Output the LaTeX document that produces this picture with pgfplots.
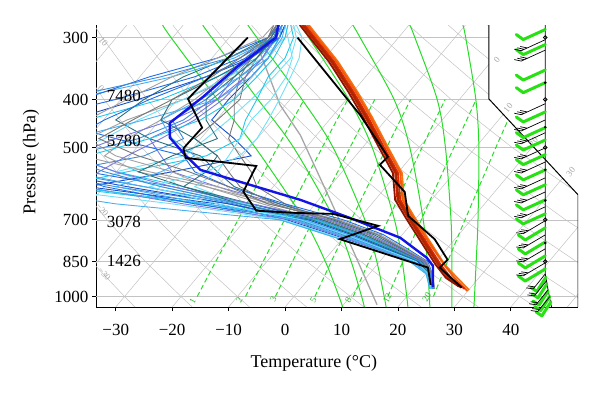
\documentclass[border=0pt]{standalone}
\usepackage{fontspec}
\setmainfont{Liberation Serif}
\usepackage{pgfplots}
\pgfplotsset{compat=1.18}
\definecolor{gridgray}{RGB}{195,195,195}
\definecolor{madgreen}{RGB}{40,220,40}
\definecolor{barbgreen}{RGB}{40,225,20}
\definecolor{ca}{RGB}{30,110,230}
\definecolor{cb}{RGB}{30,200,235}
\definecolor{cc}{RGB}{160,160,160}
\definecolor{cd}{RGB}{60,140,215}
\definecolor{ce}{RGB}{110,225,250}
\definecolor{cf}{RGB}{120,120,225}
\definecolor{cg}{RGB}{40,115,125}
\definecolor{ch}{RGB}{25,80,205}
\definecolor{ci}{RGB}{120,120,120}
\definecolor{cj}{RGB}{70,175,240}
\definecolor{thickblue}{RGB}{20,20,230}
\definecolor{tA}{RGB}{140,20,0}
\definecolor{tB}{RGB}{225,35,0}
\definecolor{tC}{RGB}{240,90,10}
\definecolor{tD}{RGB}{245,115,20}
\definecolor{tE}{RGB}{170,40,0}
\definecolor{tF}{RGB}{200,35,0}
\pgfdeclareplotmark{gA}{\pgfpathmoveto{\pgfqpoint{0pt}{0pt}}\pgfpathlineto{\pgfqpoint{-22pt}{-10pt}}\pgfpathlineto{\pgfqpoint{-29pt}{-5pt}}\pgfusepathqstroke}
\pgfdeclareplotmark{gB}{\pgfpathmoveto{\pgfqpoint{0pt}{0pt}}\pgfpathlineto{\pgfqpoint{-20pt}{-12pt}}\pgfpathlineto{\pgfqpoint{-27pt}{-7pt}}\pgfusepathqstroke}
\pgfdeclareplotmark{gC}{\pgfpathmoveto{\pgfqpoint{0pt}{0pt}}\pgfpathlineto{\pgfqpoint{-9pt}{-14pt}}\pgfpathlineto{\pgfqpoint{-15pt}{-10pt}}\pgfusepathqstroke}
\pgfdeclareplotmark{bA}{\pgfpathmoveto{\pgfqpoint{0pt}{0pt}}\pgfpathlineto{\pgfqpoint{-24pt}{-11pt}}\pgfpathlineto{\pgfqpoint{-31pt}{-9.5pt}}\pgfpathmoveto{\pgfqpoint{-21pt}{-9.6pt}}\pgfpathlineto{\pgfqpoint{-28pt}{-8.1pt}}\pgfpathmoveto{\pgfqpoint{-18pt}{-8.25pt}}\pgfpathlineto{\pgfqpoint{-25pt}{-6.75pt}}\pgfusepathqstroke}
\pgfdeclareplotmark{bB}{\pgfpathmoveto{\pgfqpoint{0pt}{0pt}}\pgfpathlineto{\pgfqpoint{-22pt}{-13pt}}\pgfpathlineto{\pgfqpoint{-29pt}{-12pt}}\pgfpathmoveto{\pgfqpoint{-19.5pt}{-11.5pt}}\pgfpathlineto{\pgfqpoint{-26.5pt}{-10.5pt}}\pgfpathmoveto{\pgfqpoint{-17pt}{-10pt}}\pgfpathlineto{\pgfqpoint{-24pt}{-9pt}}\pgfusepathqstroke}
\pgfdeclareplotmark{bC}{\pgfpathmoveto{\pgfqpoint{0pt}{0pt}}\pgfpathlineto{\pgfqpoint{-12pt}{-15pt}}\pgfpathlineto{\pgfqpoint{-19pt}{-14pt}}\pgfpathmoveto{\pgfqpoint{-10.5pt}{-13pt}}\pgfpathlineto{\pgfqpoint{-17.5pt}{-12pt}}\pgfusepathqstroke}
\pgfplotsset{
 gl/.style={gridgray, line width=0.5pt},
 ma/.style={madgreen, line width=1pt, smooth},
 mr/.style={madgreen, line width=1pt, dash pattern=on 5pt off 3pt},
 en/.style={line width=0.9pt},
 te/.style={line width=1.8pt},
}
\begin{document}
\begin{tikzpicture}
\begin{axis}[
 scale only axis, width=482pt, height=282pt,
 xmin=-33.5, xmax=51.9, ymin=283, ymax=1050,
 ymode=log, y dir=reverse,
 axis x line*=bottom, axis y line*=left,
 axis line style={line width=1pt},
 xtick={-30,-20,-10,0,10,20,30,40},
 xticklabels={−30,−20,−10,0,10,20,30,40},
 ytick={300,400,500,700,850,1000},
 yticklabels={300,400,500,700,850,1000},
 minor xtick={}, minor ytick={},
 tick align=outside, major tick length=4pt,
 tick style={black, line width=0.8pt},
 /pgf/number format/assume math mode=true,
 tick label style={font=\fontsize{17}{20}\selectfont},
 xticklabel style={yshift=-10pt},
 label style={font=\fontsize{18}{21}\selectfont},
 xlabel={Temperature (°C)}, ylabel={Pressure (hPa)},
 xlabel style={at={(axis description cs:0.452,-0.2)}, anchor=center},
 ylabel style={at={(axis description cs:-0.135,0.514)}, anchor=center},
]
\begin{scope}
\clip (axis cs:-33.5,283) -- (axis cs:36.1,283) -- (axis cs:36.1,399) -- (axis cs:51.9,623) -- (axis cs:51.9,1050) -- (axis cs:-33.5,1050) -- cycle;
% isobars
\addplot[gl] coordinates {(-33.5,300) (51.9,300)};
\addplot[gl] coordinates {(-33.5,400) (51.9,400)};
\addplot[gl] coordinates {(-33.5,500) (51.9,500)};
\addplot[gl] coordinates {(-33.5,700) (51.9,700)};
\addplot[gl] coordinates {(-33.5,850) (51.9,850)};
\addplot[gl] coordinates {(-33.5,1000) (51.9,1000)};
% isotherms
\addplot[gl] coordinates {(-70,1050) (-28.04,283)};
\addplot[gl] coordinates {(-60,1050) (-18.04,283)};
\addplot[gl] coordinates {(-50,1050) (-8.04,283)};
\addplot[gl] coordinates {(-40,1050) (1.96,283)};
\addplot[gl] coordinates {(-30,1050) (11.96,283)};
\addplot[gl] coordinates {(-20,1050) (21.96,283)};
\addplot[gl] coordinates {(-10,1050) (31.96,283)};
\addplot[gl] coordinates {(0,1050) (41.96,283)};
\addplot[gl] coordinates {(10,1050) (51.96,283)};
\addplot[gl] coordinates {(20,1050) (61.96,283)};
\addplot[gl] coordinates {(30,1050) (71.96,283)};
\addplot[gl] coordinates {(40,1050) (81.96,283)};
\addplot[gl] coordinates {(50,1050) (91.96,283)};
% dry adiabats
\addplot[gl] coordinates {(-26.58,1050)(-28.44,1000)(-34.29,850)};
\addplot[gl] coordinates {(-16.44,1050)(-18.44,1000)(-24.74,850)(-31.57,700)(-41.78,500)};
\addplot[gl] coordinates {(-6.30,1050)(-8.44,1000)(-15.20,850)(-22.54,700)(-33.58,500)(-39.79,400)};
\addplot[gl] coordinates {(3.84,1050)(1.56,1000)(-5.65,850)(-13.51,700)(-25.38,500)(-32.10,400)(-39.47,300)};
\addplot[gl] coordinates {(13.98,1050)(11.56,1000)(3.90,850)(-4.48,700)(-17.18,500)(-24.41,400)(-32.38,300)(-33.84,283)};
\addplot[gl] coordinates {(24.12,1050)(21.56,1000)(13.44,850)(4.55,700)(-8.98,500)(-16.72,400)(-25.29,300)(-26.87,283)};
\addplot[gl] coordinates {(34.26,1050)(31.56,1000)(22.99,850)(13.58,700)(-0.78,500)(-9.03,400)(-18.20,300)(-19.90,283)};
\addplot[gl] coordinates {(44.40,1050)(41.56,1000)(32.53,850)(22.61,700)(7.42,500)(-1.34,400)(-11.11,300)(-12.93,283)};
\addplot[gl] coordinates {(54.54,1050)(51.56,1000)(42.08,850)(31.64,700)(15.62,500)(6.35,400)(-4.02,300)(-5.96,283)};
\addplot[gl] coordinates {(64.68,1050)(61.56,1000)(51.63,850)(40.67,700)(23.82,500)(14.04,400)(3.07,300)(1.01,283)};
\addplot[gl] coordinates {(74.82,1050)(71.56,1000)(61.17,850)(49.70,700)(32.02,500)(21.73,400)(10.16,300)(7.98,283)};
\addplot[gl] coordinates {(84.96,1050)(81.56,1000)(70.72,850)(58.73,700)(40.22,500)(29.42,400)(17.25,300)(14.95,283)};
\addplot[gl] coordinates {(95.10,1050)(91.56,1000)(80.26,850)(67.76,700)(48.42,500)(37.11,400)(24.34,300)(21.92,283)};
\addplot[gl] coordinates {(105.24,1050)(101.56,1000)(89.81,850)(76.79,700)(56.62,500)(44.80,400)(31.43,300)(28.89,283)};
\addplot[gl] coordinates {(115.38,1050)(111.56,1000)(99.35,850)(85.82,700)(64.82,500)(52.49,400)(38.52,300)(35.86,283)};
% mixing ratio lines
\addplot[mr] coordinates {(-15.57,1000)(-12.29,850)(-8.33,700)(-1.35,500)(3.38,400)};
\addplot[mr] coordinates {(-7.02,1000)(-3.89,850)(-0.10,700)(6.59,500)(11.11,400)};
\addplot[mr] coordinates {(-1.72,1000)(1.31,850)(5.00,700)(11.51,500)(15.90,400)};
\addplot[mr] coordinates {(5.28,1000)(8.19,850)(11.73,700)(17.99,500)(22.24,400)};
\addplot[mr] coordinates {(12.07,1000)(14.86,850)(18.25,700)(24.27,500)(28.36,400)};
\addplot[mr] coordinates {(18.20,1000)(20.87,850)(24.13,700)(29.92,500)(33.87,400)};
\addplot[mr] coordinates {(26.28,1000)(28.79,850)(31.87,700)(37.35,500)(41.11,400)};
% moist adiabats
\addplot[ma] coordinates {(10.2,1050)(9.56,1000)(7.14,850)(3.38,700)(-5.3,500)(-12.0,400)(-20.2,300)(-21.7,283)};
\addplot[ma] coordinates {(14.05,1050)(13.56,1000)(11.71,850)(8.8,700)(1.5,500)(-4.8,400)(-13.0,300)(-14.6,283)};
\addplot[ma] coordinates {(17.9,1050)(17.56,1000)(16.26,850)(14.14,700)(8.5,500)(3.0,400)(-5.0,300)(-6.6,283)};
\addplot[ma] coordinates {(21.76,1050)(21.56,1000)(20.76,850)(19.38,700)(15.44,500)(11.28,400)(4.2,300)(2.7,283)};
\addplot[ma] coordinates {(25.65,1050)(25.56,1000)(25.19,850)(24.48,700)(22.1,500)(19.31,400)(13.3,300)(12.0,283)};
\addplot[ma] coordinates {(29.55,1050)(29.56,1000)(29.56,850)(29.4,700)(28.41,500)(26.95,400)(23.0,300)(22.1,283)};
\addplot[ma] coordinates {(33.46,1050)(33.56,1000)(33.86,850)(34.18,700)(34.34,500)(33.8,400)(32.0,300)(31.5,283)};
\end{scope}
% frame on the right
\draw[line width=1pt] (axis cs:36.1,283) -- (axis cs:36.1,399) -- (axis cs:51.9,623) -- (axis cs:51.9,1050);
% line labels
\begin{scope}[every node/.style={font=\fontsize{9}{10}\selectfont, text=madgreen!85!black, rotate=62, inner sep=0pt}]
\node at (axis cs:-16.4,1023) {1};
\node at (axis cs:-8.1,1016) {2};
\node at (axis cs:-2.1,1010) {3};
\node at (axis cs:5.0,1016) {5};
\node at (axis cs:11.2,1016) {8};
\node at (axis cs:18.1,1006) {12};
\node at (axis cs:25.1,1001) {20};
\end{scope}
\begin{scope}[every node/.style={font=\fontsize{9}{10}\selectfont, text=black!35, rotate=-50, inner sep=0pt}]
\node at (axis cs:-32.2,306) {10};
\node at (axis cs:-32.6,379) {0};
\node at (axis cs:-32.4,668) {−20};
\node at (axis cs:-32.0,900) {−30};
\end{scope}
\begin{scope}[every node/.style={font=\fontsize{9}{10}\selectfont, text=black!35, rotate=50, inner sep=0pt}]
\node at (axis cs:37.5,333) {0};
\node at (axis cs:39.5,416) {10};
\node at (axis cs:44.0,487) {20};
\node at (axis cs:50.6,560) {30};
\end{scope}
% gray line
\addplot[black!35, line width=1.3pt] coordinates {(-5.3,303)(-0.9,410)(2.7,472)(8.0,638)(12.0,805)(16.3,1039)};
% ensemble dewpoints
\addplot[en, ca] coordinates {(-1,283)(-2,300)(-8,330)(-16,360)(-30,400)(-45,440)(-50,480)(-45,520)(-35,560)(-20,600)(-6,650)(5.3,700)(12.9,750)(18.7,800)(23.9,850)(25.6,900)(26.0,950)(26.1,965)};
\addplot[en, cb] coordinates {(0,283)(-1,300)(-5,330)(-12,360)(-22,400)(-35,440)(-42,480)(-38,520)(-30,560)(-18,600)(-7,650)(2.8,700)(10.7,750)(17.2,800)(23.2,850)(25.4,900)(25.8,950)(25.9,965)};
\addplot[en, cc] coordinates {(-2,283)(-3,300)(-7,330)(-11,360)(-16,400)(-22,440)(-28,480)(-32,520)(-26,560)(-14,600)(-2,650)(7.8,700)(15.1,750)(20.1,800)(24.6,850)(25.8,900)(26.2,950)(26.3,965)};
\addplot[en, cd] coordinates {(-0.5,283)(-2,300)(-6,330)(-10,360)(-14,400)(-20,440)(-18,480)(-25,520)(-40,560)(-25,600)(-9,650)(1.6,700)(9.5,750)(16.5,800)(22.8,850)(25.2,900)(25.7,950)(25.8,965)};
\addplot[en, ce] coordinates {(1.5,283)(2,300)(1,330)(-2,360)(-6,400)(-10,440)(-14,480)(-18,520)(-30,560)(-22,600)(-7,650)(4.1,700)(11.8,750)(17.9,800)(23.5,850)(25.5,900)(25.9,950)(26.0,965)};
\addplot[en, cf] coordinates {(-1,283)(-2.5,300)(-6,330)(-9,360)(-12,400)(-17,440)(-24,480)(-22,520)(-20,560)(-12,600)(-1,650)(9.0,700)(16.3,750)(20.8,800)(24.9,850)(26.0,900)(26.3,950)(26.4,965)};
\addplot[en, cg] coordinates {(-1.5,283)(-3,300)(-10,330)(-18,360)(-25,400)(-30,440)(-24,480)(-15,520)(-12,560)(-9,600)(-1,650)(8.4,700)(15.7,750)(20.5,800)(24.7,850)(25.9,900)(26.3,950)(26.3,965)};
\addplot[en, ch] coordinates {(0,283)(-1,300)(-3,330)(-6,360)(-10,400)(-13,440)(-9,480)(-6,520)(-20,560)(-35,600)(-12,650)(0.3,700)(8.4,750)(15.7,800)(22.5,850)(25.1,900)(25.6,950)(25.7,965)};
\addplot[en, ci] coordinates {(-2,283)(-3,300)(-6,330)(-8,360)(-9,400)(-9,440)(-10,480)(-8,520)(-6,560)(-5,600)(0,650)(6.5,700)(14.0,750)(19.4,800)(24.2,850)(25.7,900)(26.1,950)(26.2,965)};
\addplot[en, cb] coordinates {(1,283)(1.5,300)(0,330)(-3,360)(-5,400)(-7,440)(-8,480)(-14,520)(-28,560)(-40,600)(-15,650)(-0.9,700)(7.3,750)(15.0,800)(22.1,850)(25.0,900)(25.5,950)(25.6,965)};
\addplot[en, cj] coordinates {(-0.5,283)(-2,300)(-9,330)(-20,360)(-38,400)(-45,440)(-40,480)(-40,520)(-38,560)(-25,600)(-8,650)(3.4,700)(11.2,750)(17.6,800)(23.3,850)(25.4,900)(25.9,950)(26.0,965)};
\addplot[en, ca] coordinates {(-1,283)(-3,300)(-12,330)(-24,360)(-36,400)(-42,440)(-30,480)(-18,520)(-16,560)(-10,600)(0,650)(10.3,700)(17.4,750)(21.6,800)(25.3,850)(26.1,900)(26.4,950)(26.5,965)};
\addplot[en, cc] coordinates {(-1,283)(-2,300)(-5,330)(-9,360)(-18,400)(-28,440)(-35,480)(-30,520)(-20,560)(-14,600)(-4,650)(5.9,700)(13.5,750)(19.0,800)(24.0,850)(25.7,900)(26.1,950)(26.2,965)};
\addplot[en, cd] coordinates {(-0.5,283)(-1.5,300)(-4,330)(-8,360)(-13,400)(-18,440)(-26,480)(-38,520)(-45,560)(-30,600)(-10,650)(2.2,700)(10.1,750)(16.8,800)(23.0,850)(25.3,900)(25.8,950)(25.9,965)};
\addplot[en, ce] coordinates {(0,283)(0.5,300)(1.3,330)(0.2,360)(-2.5,400)(-6,440)(-8,480)(-10,520)(-12,560)(-16,600)(-8,650)(4.7,700)(12.3,750)(18.3,800)(23.7,850)(25.5,900)(26.0,950)(26.0,965)};
\addplot[en, cf] coordinates {(-1,283)(-2,300)(-4,330)(-7,360)(-11,400)(-16,440)(-22,480)(-28,520)(-33,560)(-36,600)(-18,650)(1.0,700)(9.0,750)(16.1,800)(22.6,850)(25.2,900)(25.7,950)(25.8,965)};
\addplot[en, ci] coordinates {(-1.5,283)(-2.5,300)(-5,330)(-7,360)(-8,400)(-12,440)(-16,480)(-12,520)(-10,560)(-8,600)(-2,650)(7.2,700)(14.6,750)(19.7,800)(24.4,850)(25.8,900)(26.2,950)(26.3,965)};
\addplot[en, ch] coordinates {(0,283)(-1,300)(-6,330)(-14,360)(-26,400)(-38,440)(-48,480)(-50,520)(-42,560)(-28,600)(-10,650)(4.1,700)(11.8,750)(17.9,800)(23.5,850)(25.5,900)(25.9,950)(26.0,965)};
\addplot[en, ce] coordinates {(0.5,283)(0,300)(-4,330)(-10,360)(-18,400)(-26,440)(-32,480)(-40,520)(-48,560)(-45,600)(-20,650)(-0.3,700)(7.9,750)(15.4,800)(22.3,850)(25.1,900)(25.6,950)(25.7,965)};
\addplot[en, cg] coordinates {(-1,283)(-2,300)(-5,330)(-9,360)(-14,400)(-14,440)(-12,480)(-20,520)(-26,560)(-18,600)(-6,650)(6.5,700)(14.0,750)(19.4,800)(24.2,850)(25.7,900)(26.1,950)(26.2,965)};
\addplot[en, cj] coordinates {(-0.5,283)(-1,300)(-3,330)(-6,360)(-12,400)(-25,440)(-38,480)(-48,520)(-50,560)(-50,600)(-30,650)(-0.9,700)(7.3,750)(15.0,800)(22.1,850)(25.0,900)(25.5,950)(25.6,965)};
\addplot[en, cc] coordinates {(-2,283)(-4,300)(-12,330)(-20,360)(-28,400)(-35,440)(-42,480)(-36,520)(-24,560)(-12,600)(-3,650)(9.6,700)(16.8,750)(21.2,800)(25.1,850)(26.0,900)(26.4,950)(26.5,965)};
\addplot[en, cb] coordinates {(0.5,283)(0,300)(-2,330)(-5,360)(-9,400)(-15,440)(-24,480)(-35,520)(-44,560)(-38,600)(-14,650)(5.3,700)(12.9,750)(18.7,800)(23.9,850)(25.6,900)(26.0,950)(26.1,965)};
\addplot[en, ca] coordinates {(-1,283)(-2,300)(-7,330)(-14,360)(-24,400)(-32,440)(-38,480)(-44,520)(-40,560)(-32,600)(-16,650)(2.8,700)(10.7,750)(17.2,800)(23.2,850)(25.4,900)(25.8,950)(25.9,965)};
\addplot[en, cf] coordinates {(-1,283)(-2,300)(-4,330)(-7,360)(-12,400)(-20,440)(-30,480)(-38,520)(-30,560)(-20,600)(-6,650)(7.8,700)(15.1,750)(20.1,800)(24.6,850)(25.8,900)(26.2,950)(26.3,965)};
\addplot[en, cj] coordinates {(0,283)(-0.5,300)(-3,330)(-8,360)(-15,400)(-22,440)(-20,480)(-16,520)(-22,560)(-30,600)(-14,650)(1.6,700)(9.5,750)(16.5,800)(22.8,850)(25.2,900)(25.7,950)(25.8,965)};
\addplot[en, cg] coordinates {(-1,283)(-2.5,300)(-6,330)(-12,360)(-20,400)(-22,440)(-16,480)(-12,520)(-14,560)(-18,600)(-8,650)(4.7,700)(12.3,750)(18.3,800)(23.7,850)(25.5,900)(26.0,950)(26.0,965)};
\addplot[en, cd] coordinates {(-0.5,283)(-2,300)(-10,330)(-22,360)(-40,400)(-50,440)(-48,480)(-40,520)(-32,560)(-22,600)(-8,650)(5.9,700)(13.5,750)(19.0,800)(24.0,850)(25.7,900)(26.1,950)(26.2,965)};
\addplot[en, ce] coordinates {(2,283)(3,300)(2.5,330)(1,360)(-1,400)(-3,440)(-5,480)(-8,520)(-14,560)(-24,600)(-12,650)(2.8,700)(10.7,750)(17.2,800)(23.2,850)(25.4,900)(25.8,950)(25.9,965)};
\addplot[en, ci] coordinates {(-1.5,283)(-3,300)(-8,330)(-13,360)(-20,400)(-27,440)(-33,480)(-26,520)(-17,560)(-10,600)(-3,650)(9.0,700)(16.3,750)(20.8,800)(24.9,850)(26.0,900)(26.3,950)(26.4,965)};
% mean dewpoint
\addplot[thickblue, line width=2.4pt] coordinates {(-1.2,283)(-1.6,300)(-8.1,341)(-14.5,395)(-20.4,446)(-20.4,478)(-17.7,518)(-15.0,555)(-6.2,595)(2.7,638)(11.5,694)(20.4,761)(25.1,835)(26.2,867)(26.2,956)};
% observed dewpoint
\addplot[black, line width=1.8pt] coordinates {(-6.6,300)(-17.2,399)(-14.7,456)(-18.0,502)(-17.6,525)(-5.1,545)(-7.4,614)(-5.1,671)(1.9,678)(8.5,681)(16.5,720)(9.7,766)(25.3,874)(25.8,947)};
% ensemble temperatures
\addplot[te, tD] coordinates {(4.2,283)(9.4,336)(12.8,386)(15.4,434)(18.2,499)(20.7,563)(21.1,638)(23.0,694)(25.7,776)(28.3,863)(30.5,917)(32.6,970)};
\addplot[te, tC] coordinates {(3.9,283)(9.1,336)(12.5,386)(15.1,434)(17.9,499)(20.4,563)(20.8,638)(22.7,694)(25.4,776)(28.2,863)(30.0,917)(32.3,975)};
\addplot[te, tB] coordinates {(3.5,283)(8.7,336)(12.1,386)(14.7,434)(17.5,499)(20.0,563)(20.4,638)(22.3,694)(25.0,776)(27.6,863)(29.4,917)(31.8,965)};
\addplot[te, tF] coordinates {(3.0,283)(8.2,336)(11.6,386)(14.2,434)(17.0,499)(19.5,563)(19.9,638)(21.8,694)(24.5,776)(27.1,863)(28.9,917)(31.2,960)};
\addplot[te, tE] coordinates {(3.2,283)(8.4,336)(11.8,386)(14.4,434)(17.2,499)(19.7,563)(20.1,638)(22.0,694)(24.7,776)(27.3,863)(29.1,917)(31.0,955)};
\addplot[te, tA] coordinates {(2.6,283)(7.8,336)(11.2,386)(13.8,434)(16.6,499)(19.1,563)(19.5,638)(21.4,694)(24.1,776)(26.7,863)(28.5,917)(30.8,955)};
% observed temperature
\addplot[black, line width=1.8pt] coordinates {(2.2,300)(13.3,430)(18.2,522)(16.8,542)(21.2,615)(21.8,687)(26.5,766)(28.8,843)(27.4,874)(31.3,959)};
% height labels
\begin{scope}[every node/.style={font=\fontsize{17}{20}\selectfont, anchor=base west, inner sep=0pt}]
\node at (axis cs:-31.6,404) {7480};
\node at (axis cs:-31.6,498) {5780};
\node at (axis cs:-31.6,727) {3078};
\node at (axis cs:-31.6,870) {1426};
\end{scope}
% wind column
\addplot[black, line width=0.8pt] coordinates {(46.1,283)(46.1,900)(46.6,970)(47.2,1050)};
\addplot[only marks, mark=gA, mark options={barbgreen, line width=3pt, line join=round, line cap=round}] coordinates {(46.1,289)(46.1,310)(46.1,349)(46.1,370)(46.1,424)(46.1,456)(46.1,483)(46.1,517)(46.1,555)(46.1,595)(46.1,638)(46.1,681)};
\addplot[only marks, mark=gB, mark options={barbgreen, line width=3pt, line join=round, line cap=round}] coordinates {(46.1,727)(46.1,776)(46.1,828)(46.1,880)};
\addplot[only marks, mark=gC, mark options={barbgreen, line width=3pt, line join=round, line cap=round}] coordinates {(46.2,915)(46.4,943)(46.6,975)(46.9,1000)(47.1,1025)};
\addplot[only marks, mark=bA, mark options={black, line width=0.7pt}] coordinates {(46.1,303)(46.1,318)(46.1,408)(46.1,440)(46.1,467)(46.1,501)(46.1,535)(46.1,576)(46.1,615)(46.1,659)};
\addplot[only marks, mark=bB, mark options={black, line width=0.7pt}] coordinates {(46.1,703)(46.1,751)(46.1,801)(46.1,855)};
\addplot[only marks, mark=bC, mark options={black, line width=0.7pt}] coordinates {(46.1,900)(46.3,930)(46.6,969)(46.9,1000)};
\addplot[only marks, mark=o, mark size=1.8pt, mark options={black, fill=white, line width=0.8pt}] coordinates {(46.1,300)(46.1,400)(46.1,500)(46.1,700)(46.1,850)};
\addplot[only marks, mark=*, mark size=1.1pt, black] coordinates {(46.1,370)(46.1,455)(46.1,555)(46.1,640)(46.1,780)};
\end{axis}
\pgfresetboundingbox
\path[use as bounding box] (current axis.south west) ++(-96pt,-89pt) rectangle ++(600pt,396pt);
\end{tikzpicture}
\end{document}
